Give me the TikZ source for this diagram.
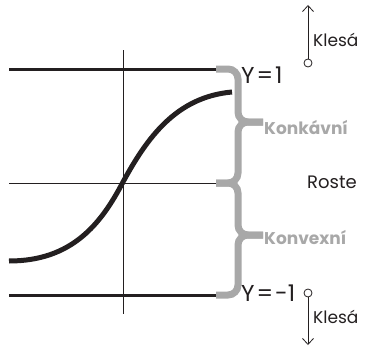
\documentclass[tikz,border=0pt]{standalone}
\usepackage{xcolor}
\usepackage{fontspec}
\setmainfont{Poppins}
\usepackage{tikz}
\usetikzlibrary{arrows.meta}
\definecolor{ink}{HTML}{231F20}
\definecolor{bracegray}{HTML}{A8A8A8}
\begin{document}
\begin{tikzpicture}[x=1pt,y=-1pt, >={Straight Barb[length=6pt,width=11pt]},
  level/.style={ink,line width=3pt},
  axis/.style={ink,line width=0.9pt},
  curly/.style={bracegray,line width=7pt,rounded corners=10pt},
  dot/.style={circle,draw=ink,line width=0.8pt,inner sep=0pt,minimum size=8pt},
  lab/.style={ink,font=\fontsize{17}{17}\selectfont,inner sep=0pt},
  yval/.style={ink,font=\fontsize{23}{23}\selectfont,inner sep=0pt,anchor=west},
  kind/.style={bracegray,font=\fontsize{17}{17}\selectfont\bfseries,inner sep=0pt,anchor=west}]
\useasboundingbox (0,0) rectangle (365,348);
% asymptotes and axes
\draw[level] (9,69) -- (217,69);
\draw[level] (9,295) -- (217,295);
\draw[axis] (9,183) -- (217,183);
\draw[axis] (123,50) -- (123,314);
% the s-curve
\draw[ink,line width=5pt] (9,261) .. controls (72,261) and (101,224) .. (123,182) .. controls (147,138) and (176,97) .. (232,92);
% braces (two halves each)
\draw[curly] (216,69) -- (238,69) -- (238,122) -- (263,122);
\draw[curly] (263,122) -- (238,122) -- (238,183) -- (216,183);
\draw[curly] (216,183) -- (238,183) -- (238,235) -- (263,235);
\draw[curly] (263,235) -- (238,235) -- (238,295) -- (216,295);
\node[yval] (y1) at (241,75) {Y\kern2pt=\kern2pt1};
\node[yval] (y2) at (241,293) {Y\kern2pt=\kern2pt-1};
\node[kind] (konk) at (264,128) {Konkávní};
\node[kind] (konv) at (264,238) {Konvexní};
\node[lab,font=\fontsize{18}{18}\selectfont] (roste) at (332,182) {Roste};
% falling markers
\node[dot] (top) at (308,63) {};
\coordinate (toptip) at (308,5);
\node[dot] (bot) at (308,293) {};
\coordinate (bottip) at (308,345);
\draw[->,ink,line width=0.8pt] (top) -- (toptip);
\draw[->,ink,line width=0.8pt] (bot) -- (bottip);
\node[lab,anchor=west] (k1) at (313,40) {Klesá};
\node[lab,anchor=west] (k2) at (313,317) {Klesá};
\end{tikzpicture}
\end{document}
